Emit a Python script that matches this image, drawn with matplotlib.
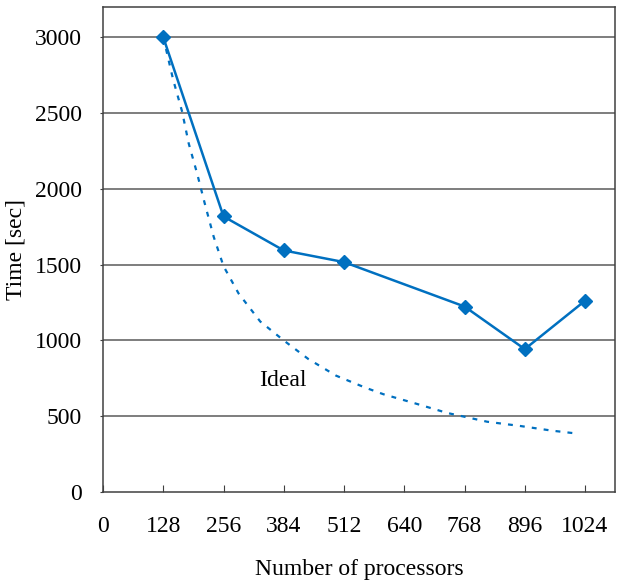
import matplotlib
matplotlib.use("Agg")
from matplotlib import pyplot as plt

# measured run times
procs = [128, 256, 384, 512, 768, 896, 1024]
times = [3000, 1818, 1594, 1517, 1224, 943, 1262]

# ideal scaling curve
ideal_procs = [128, 149, 168, 182, 200, 216, 235, 256, 288, 334, 384, 436,
               495, 557, 596, 663, 731, 816, 886, 954, 1001]
ideal_times = [3000, 2720, 2510, 2300, 2100, 1905, 1685, 1490, 1310, 1125, 1000, 878,
               768, 689, 645, 585, 522, 464, 436, 405, 388]

xticks = [0, 128, 256, 384, 512, 640, 768, 896, 1024]
yticks = [0, 500, 1000, 1500, 2000, 2500, 3000]

blue = "#0070C0"
plt.rcParams["font.family"] = "Liberation Serif"
plt.rcParams["font.size"] = 17

fig = plt.figure(figsize=(6.17, 5.83), dpi=100)
ax = fig.add_axes([0.167, 0.156, 0.83, 0.832])

for y in yticks[1:]:
    ax.axhline(y, color="#5a5a5a", lw=1.1, zorder=1)

ax.plot(ideal_procs, ideal_times, color=blue, lw=1.6, linestyle=(0, (2.2, 3.2)), zorder=2)
ax.plot(procs, times, color=blue, lw=1.8, marker="D", markersize=7, zorder=3)
ax.text(381, 733, "Ideal", ha="center", va="center")

ax.set_xlim(0, 1088)
ax.set_ylim(0, 3200)
ax.set_xticks(xticks)
ax.set_yticks(yticks)
ax.tick_params(axis="x", direction="in", length=5, pad=17, color="#404040")
ax.tick_params(axis="y", direction="out", length=2, pad=13, color="#404040")
for s in ax.spines.values():
    s.set_color("#404040")
    s.set_linewidth(1.1)

ax.set_xlabel("Number of processors", labelpad=16)
ax.set_ylabel("Time [sec]", labelpad=6)

fig.savefig("out.png", dpi=100)
